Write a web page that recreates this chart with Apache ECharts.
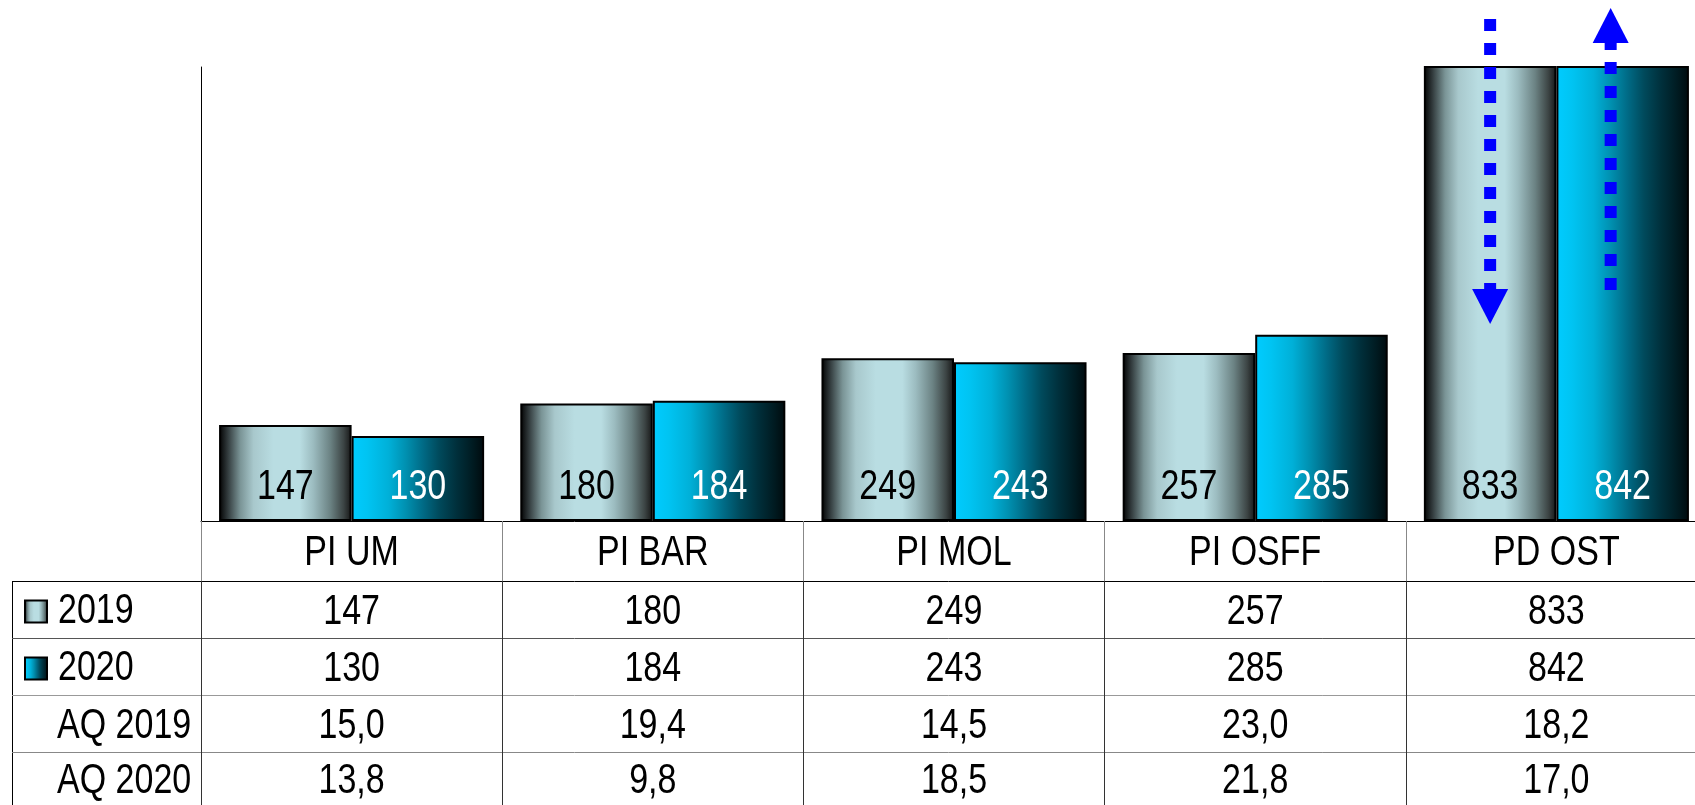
<!DOCTYPE html>
<html>
<head>
<meta charset="utf-8">
<title>PI / PD 2019-2020</title>
<script src="https://cdn.jsdelivr.net/npm/echarts@6.0.0/dist/echarts.min.js"></script>
<style>
  html, body { margin: 0; padding: 0; background: #fff; }
  #chart { width: 1695px; height: 805px; }
</style>
</head>
<body>
<div id="chart"></div>
<script>
// data
const categories = ['PI UM', 'PI BAR', 'PI MOL', 'PI OSFF', 'PD OST'];
const values2019 = [147, 180, 249, 257, 833];
const values2020 = [130, 184, 243, 285, 842];
const aq2019 = [15.0, 19.4, 14.5, 23.0, 18.2];
const aq2020 = [13.8, 9.8, 18.5, 21.8, 17.0];
const seriesNames = ['2019', '2020'];
const aqLabels = ['AQ 2019', 'AQ 2020'];

// layout
const FONT = "'Liberation Sans', Arial, sans-serif";
const FS = 42;
const BASE_Y = 521;
const rowTops = [521, 581, 638, 695, 752, 805];   // header + 4 table rows
const rowLineColors = ['#000', '#000', '#555', '#999', '#888'];
const tickColors = ['#888', '#333', '#333', '#333', '#333'];
const TEXT_DY = 3;                                 // optical nudge of table text
const TABLE_LEFT = 12, LABEL_X = 57;

// no narrow sans is installed here: squeeze canvas text horizontally (Arial Narrow look)
const NARROW = 0.81;
const nativeFillText = CanvasRenderingContext2D.prototype.fillText;
CanvasRenderingContext2D.prototype.fillText = function (text, x, y, maxWidth) {
    this.save();
    this.translate(x, y); this.scale(NARROW, 1); this.translate(-x, -y);
    if (maxWidth === undefined) nativeFillText.call(this, text, x, y);
    else nativeFillText.call(this, text, x, y, maxWidth);
    this.restore();
};

const fmtAq = v => v.toFixed(1).replace('.', ',');
const rowText = [
    i => categories[i],
    i => String(values2019[i]),
    i => String(values2020[i]),
    i => fmtAq(aq2019[i]),
    i => fmtAq(aq2020[i])
];

function hGrad(stops) {
    return new echarts.graphic.LinearGradient(0, 0, 1, 0, stops.map(([o, c]) => ({ offset: o, color: c })));
}
const grad2019 = hGrad([[0, '#000'], [0.06, '#2e3638'], [0.16, '#7a9496'], [0.26, '#a8c8cc'], [0.41, '#b9dde2'],
    [0.61, '#b9dde2'], [0.71, '#9cbcc0'], [0.84, '#6b8283'], [0.94, '#3c4444'], [1, '#151515']]);
const grad2020 = hGrad([[0, '#00ccff'], [0.12, '#00c4f2'], [0.28, '#00b0d8'], [0.41, '#0090b0'], [0.54, '#006a85'],
    [0.66, '#004a5c'], [0.79, '#00303c'], [0.92, '#001a20'], [1, '#000a0d']]);

// each table row is its own category axis below the grid
const xAxes = rowText.map((fmt, r) => {
    const h = rowTops[r + 1] - rowTops[r];
    return {
        type: 'category', data: categories, gridIndex: 0, position: 'bottom', offset: rowTops[r] - BASE_Y,
        axisLine: { show: true, lineStyle: { color: rowLineColors[r], width: 1 } },
        axisTick: { show: true, interval: 0, alignWithLabel: false, length: h, lineStyle: { color: tickColors[r], width: 1 } },
        axisLabel: { show: true, interval: 0, margin: h / 2 + (r ? TEXT_DY : 2), verticalAlign: 'middle', formatter: (v, i) => fmt(i),
            fontSize: FS, fontFamily: FONT, color: '#000' },
        splitLine: { show: false }
    };
});

function barSeries(name, data, color, labelColor) {
    return {
        name, type: 'bar', data, xAxisIndex: 0, clip: true,
        barGap: '0%', barCategoryGap: '12%',
        itemStyle: { color, borderColor: '#000', borderWidth: 2 },
        label: { show: true, position: 'insideBottom', distance: 13, fontSize: FS, fontFamily: FONT, color: labelColor },
        emphasis: { disabled: true }
    };
}

const chart = echarts.init(document.getElementById('chart'));
chart.setOption({
    animation: false,
    backgroundColor: '#fff',
    grid: { left: 201, right: -12, top: 67, bottom: 805 - BASE_Y, containLabel: false, outerBoundsMode: 'none' },
    legend: {
        data: seriesNames, orient: 'vertical', left: 19, top: rowTops[1] - 3, padding: 5, itemGap: 0,
        icon: 'rect', itemWidth: 22, itemHeight: 22, selectedMode: false,
        itemStyle: { borderColor: '#000', borderWidth: 2 },
        textStyle: { fontSize: FS, fontFamily: FONT, color: '#000', lineHeight: 57, padding: [0, 0, 0, 6] }
    },
    xAxis: xAxes,
    yAxis: {
        type: 'value', min: 0, max: 695,
        axisLine: { show: true, lineStyle: { color: '#000', width: 1 } },
        axisTick: { show: false }, axisLabel: { show: false }, splitLine: { show: false }
    },
    series: [
        barSeries(seriesNames[0], values2019, grad2019, '#000'),
        barSeries(seriesNames[1], values2020, grad2020, '#fff')
    ]
});

// left column of the table + the two dotted arrows on PD OST
function drawExtras() {
    const g = [];
    const px = c => chart.convertToPixel({ xAxisIndex: 0 }, c);
    const catW = px(categories[1]) - px(categories[0]);
    const gridLeft = px(categories[0]) - catW / 2;
    g.push({ type: 'line', shape: { x1: TABLE_LEFT + 0.5, y1: rowTops[1], x2: TABLE_LEFT + 0.5, y2: 805 }, style: { stroke: '#000', lineWidth: 1 } });
    for (let r = 1; r < 5; r++) {
        g.push({ type: 'line', shape: { x1: TABLE_LEFT, y1: rowTops[r] + 0.5, x2: gridLeft, y2: rowTops[r] + 0.5 },
            style: { stroke: rowLineColors[r], lineWidth: 1 } });
    }
    aqLabels.forEach((t, k) => {
        const r = 3 + k;
        g.push({ type: 'text', x: LABEL_X, y: (rowTops[r] + rowTops[r + 1]) / 2 + TEXT_DY,
            style: { text: t, fontSize: FS, fontFamily: FONT, fill: '#000', align: 'left', verticalAlign: 'middle' } });
    });

    const cx = px(categories[categories.length - 1]);
    const barW = catW * 0.88 / 2;
    const arrow = (x, tail, tip) => {
        const dir = tip > tail ? 1 : -1, base = tip - dir * 35;
        g.push({ type: 'line', z: 20, shape: { x1: x, y1: tail, x2: x, y2: base },
            style: { stroke: '#0000ff', lineWidth: 12, lineDash: [12, 12], lineCap: 'butt' } });
        g.push({ type: 'polygon', z: 20, shape: { points: [[x - 18, base], [x + 18, base], [x, tip]] }, style: { fill: '#0000ff' } });
    };
    arrow(cx - barW / 2, 19, 324);
    arrow(cx + barW / 2 - 12, 290, 8);
    chart.setOption({ graphic: g });
}
drawExtras();
</script>
</body>
</html>
